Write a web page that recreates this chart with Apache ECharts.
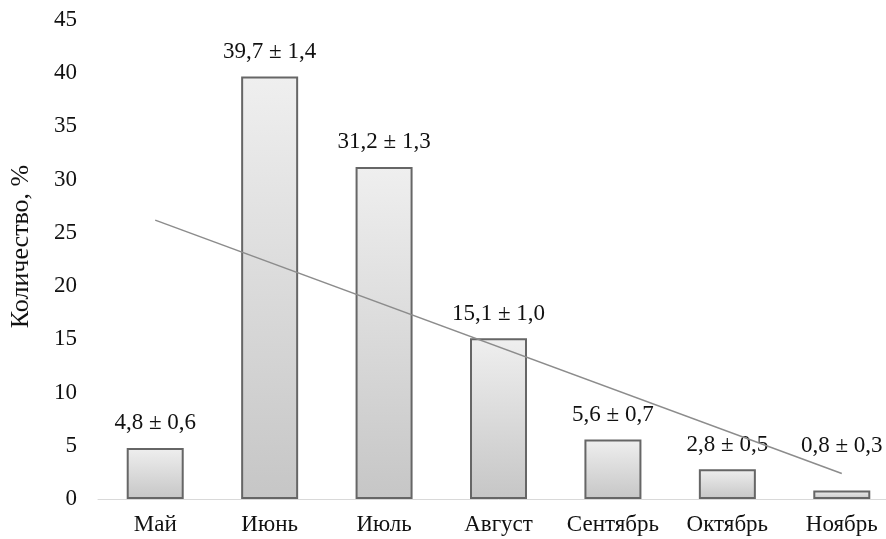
<!DOCTYPE html>
<html>
<head>
<meta charset="utf-8">
<script src="https://cdn.jsdelivr.net/npm/echarts@6/dist/echarts.min.js"></script>
<style>
html,body{margin:0;padding:0;background:#fff;overflow:hidden;}
/* the plot runs slightly past the right edge of the window */
#chart{width:899px;height:539px;}
</style>
</head>
<body>
<div id="chart"></div>
<script>
// Monthly share, % (mean ± error)
var months = ['Май', 'Июнь', 'Июль', 'Август', 'Сентябрь', 'Октябрь', 'Ноябрь'];
var values = [4.8, 39.7, 31.2, 15.1, 5.6, 2.8, 0.8];
var errors = [0.6, 1.4, 1.3, 1.0, 0.7, 0.5, 0.3];
// Linear trend endpoints (first and last month)
var trendStart = 26.2;
var trendEnd = 2.4;
var yTicks = [0, 5, 10, 15, 20, 25, 30, 35, 40, 45];

function fmt(v) { return v.toFixed(1).replace('.', ','); }

var trendData = months.map(function (m, i) {
  if (i === 0) return trendStart;
  if (i === months.length - 1) return trendEnd;
  return null;
});

// the last month's label sits a little higher, clear of the trend line
var barData = values.map(function (v, i) {
  if (i === values.length - 1) {
    return { value: v, label: { distance: 33 } };
  }
  return v;
});

var font = '"Liberation Serif", "Times New Roman", serif';
var chart = echarts.init(document.getElementById('chart'));
chart.setOption({
  animation: false,
  grid: { left: 98, top: 20, right: 0, bottom: 40 },
  xAxis: {
    type: 'category',
    data: months,
    axisLine: { lineStyle: { color: '#d9d9d9', width: 1 } },
    axisTick: { show: false },
    axisLabel: { color: '#111', fontFamily: font, fontSize: 23, margin: 14, interval: 0 }
  },
  yAxis: {
    type: 'value',
    min: yTicks[0],
    max: yTicks[yTicks.length - 1],
    interval: 5,
    name: 'Количество, %',
    nameLocation: 'middle',
    nameGap: 64,
    nameTextStyle: { color: '#111', fontFamily: font, fontSize: 26, padding: [0, 0, 0, 26] },
    axisLine: { show: false },
    axisTick: { show: false },
    splitLine: { show: false },
    axisLabel: { color: '#111', fontFamily: font, fontSize: 23, margin: 21 }
  },
  series: [
    {
      type: 'bar',
      data: barData,
      barWidth: 57,
      itemStyle: {
        color: new echarts.graphic.LinearGradient(0, 0, 0, 1, [
          { offset: 0, color: '#efefef' },
          { offset: 1, color: '#c6c6c6' }
        ]),
        borderColor: '#666666',
        borderWidth: 2
      },
      label: {
        show: true,
        position: 'top',
        distance: 13,
        color: '#111',
        fontFamily: font,
        fontSize: 23,
        formatter: function (p) {
          return fmt(values[p.dataIndex]) + ' ± ' + fmt(errors[p.dataIndex]);
        }
      },
      z: 2
    },
    {
      type: 'line',
      data: trendData,
      connectNulls: true,
      showSymbol: false,
      symbol: 'none',
      lineStyle: { color: '#8c8c8c', width: 1.5 },
      z: 3
    }
  ]
});
</script>
</body>
</html>
